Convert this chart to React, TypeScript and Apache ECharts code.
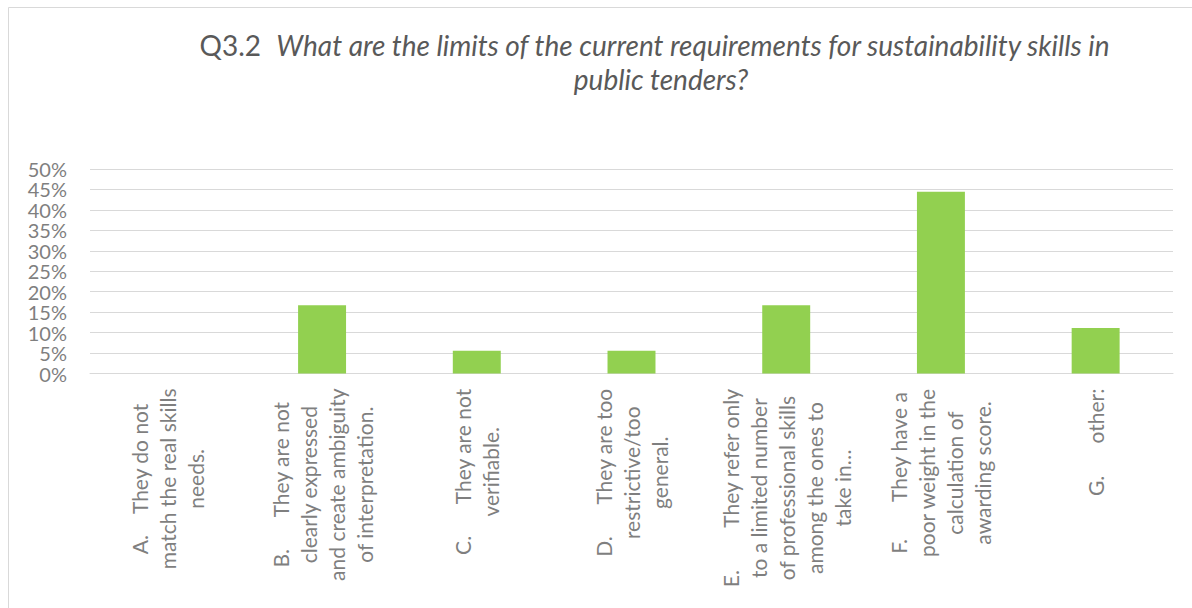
import React, { useEffect, useRef } from "react";
import * as echarts from "echarts";

const NB = "\u00a0";
const gap = (n: number) => NB.repeat(n);

const categories: string[] = [
  "A." + gap(4) + "They do not\nmatch the real skills\nneeds.",
  "B." + gap(6) + "They are not\nclearly expressed\nand create ambiguity\nof interpretation.",
  "C." + gap(6) + "They are not\nverifiable.",
  "D." + gap(6) + "They are too\nrestrictive/too\ngeneral.",
  "E." + gap(8) + "They refer only\nto a limited number\nof professional skills\namong the ones to\ntake in…",
  "F." + gap(7) + "They have a\npoor weight in the\ncalculation of\nawarding score.",
  "G." + gap(6) + "other:",
];

const values: number[] = [0, 16.67, 5.56, 5.56, 16.67, 44.44, 11.11];

const titleCode = "Q3.2  ";
const titleLine1 = "What are the limits of the current requirements for sustainability skills in";
const titleLine2 = "public tenders?";

const FONT = "Lato, 'Open Sans', sans-serif";

export default function App() {
  const ref = useRef<HTMLDivElement>(null);
  useEffect(() => {
    if (!ref.current) return;
    const chart = echarts.init(ref.current, null, { renderer: "svg" });
    chart.setOption({
      animation: false,
      backgroundColor: "#ffffff",
      textStyle: { fontFamily: FONT },
      grid: { left: 90, right: 19, top: 169, bottom: 234.5, containLabel: false },
      graphic: [
        {
          type: "rect",
          shape: { x: 8.5, y: 7.5, width: 1300, height: 800 },
          style: { fill: "none", stroke: "#d9d9d9", lineWidth: 1 },
          silent: true,
        },
        {
          type: "text",
          x: 655,
          y: 45,
          style: {
            text: "{n|" + titleCode + "}{i|" + titleLine1 + "}",
            align: "center",
            verticalAlign: "middle",
            rich: {
              n: { fontFamily: FONT, fontSize: 28, fill: "#595959", fontStyle: "normal" },
              i: { fontFamily: FONT, fontSize: 28, fill: "#595959", fontStyle: "italic" },
            },
          },
        },
        {
          type: "text",
          x: 661,
          y: 79,
          style: {
            text: titleLine2,
            align: "center",
            verticalAlign: "middle",
            fontFamily: FONT,
            fontSize: 28,
            fontStyle: "italic",
            fill: "#595959",
          },
        },
      ],
      xAxis: {
        type: "category",
        data: categories,
        axisLine: { show: true, lineStyle: { color: "#d9d9d9", width: 1 } },
        axisTick: { show: false },
        axisLabel: {
          interval: 0,
          rotate: 90,
          margin: 15,
          color: "#7f7f7f",
          fontFamily: FONT,
          fontSize: 21,
          lineHeight: 28,
          formatter: (v: string) =>
            v
              .split("\n")
              .map((l) => "{c|" + l + "}")
              .join("\n"),
          rich: {
            c: {
              align: "center",
              color: "#7f7f7f",
              fontFamily: FONT,
              fontSize: 21,
              lineHeight: 28,
            },
          },
        },
      },
      yAxis: {
        type: "value",
        min: 0,
        max: 50,
        interval: 5,
        axisLine: { show: false },
        axisTick: { show: false },
        axisLabel: {
          formatter: "{value}%",
          color: "#7f7f7f",
          fontFamily: FONT,
          fontSize: 20,
          lineHeight: 20,
          margin: 23,
        },
        splitLine: { lineStyle: { color: "#d9d9d9", width: 1 } },
      },
      series: [
        {
          type: "bar",
          data: values,
          barWidth: "31%",
          itemStyle: { color: "#92D050" },
        },
      ],
    });
    return () => chart.dispose();
  }, []);
  return (
    <div
      ref={ref}
      style={{ position: "fixed", left: 0, top: 0, width: 1192, height: 608 }}
    />
  );
}
